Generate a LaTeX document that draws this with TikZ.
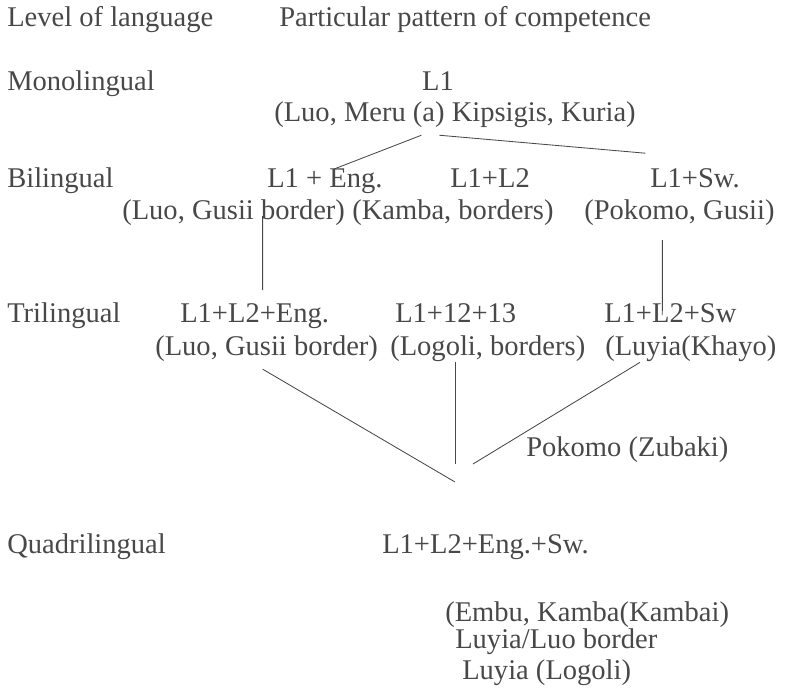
\documentclass[tikz,border=0pt]{standalone}
\usepackage{fontspec}
\setmainfont{Liberation Serif}
\usepackage{tikz}

\definecolor{ink}{RGB}{72,72,72}

\begin{document}
\begin{tikzpicture}[
  txt/.style={inner sep=0pt, text=ink, anchor=base west, font=\fontsize{20.3}{24}\selectfont},
  link/.style={draw=ink, line width=0.6pt}]

\useasboundingbox (0,0) rectangle (19.675,17.375);

\node[txt] (hlvl) at (0.175,16.7) {Level of language};
\node[txt] (hpat) at (6.975,16.7) {Particular pattern of competence};

\node[txt] (mono) at (0.175,15.1) {Monolingual};
\node[txt, anchor=base] (monol1) at (10.95,15.1) {L1};
\node[txt] (monoex) at (6.85,14.325) {(Luo, Meru (a) Kipsigis, Kuria)};

\node[txt] (bi) at (0.175,12.675) {Bilingual};
\node[txt] (bieng) at (6.675,12.675) {L1 + Eng.};
\node[txt] (bil2) at (11.25,12.675) {L1+L2};
\node[txt] (bisw) at (16.25,12.675) {L1+Sw.};
\node[txt] (biluo) at (3.05,11.875) {(Luo, Gusii border)};
\node[txt] (bikam) at (8.8,11.875) {(Kamba, borders)};
\node[txt] (bipok) at (14.6,11.875) {(Pokomo, Gusii)};

\node[txt] (tri) at (0.175,9.3) {Trilingual};
\node[txt] (trieng) at (4.5,9.3) {L1+L2+Eng.};
\node[txt] (tri13) at (9.875,9.3) {L1+12+13};
\node[txt] (trisw) at (15.1,9.3) {L1+L2+Sw};
\node[txt] (triluo) at (3.875,8.475) {(Luo, Gusii border)};
\node[txt] (trilog) at (9.75,8.475) {(Logoli, borders)};
\node[txt] (trikha) at (15.125,8.475) {(Luyia(Khayo)};

\node[txt] (pokz) at (13.15,5.95) {Pokomo (Zubaki)};
\coordinate (meet) at (11.375,5.325);

\node[txt] (quad) at (0.175,3.525) {Quadrilingual};
\node[txt] (quadl) at (9.55,3.525) {L1+L2+Eng.+Sw.};
\node[txt] (qex1) at (11.125,1.825) {(Embu, Kamba(Kambai)};
\node[txt] (qex2) at (11.375,1.15) {Luyia/Luo border};
\node[txt] (qex3) at (11.55,0.375) {Luyia (Logoli)};

% mono -> bi
\draw[link] ([shift={(-0.84,-0.17)}]monoex.south) -- ([xshift=0.24cm]bieng.north);
\draw[link] ([shift={(-0.39,-0.17)}]monoex.south) -- ([shift={(-1.24,0.39)}]bisw.north);

% bi -> tri
\draw[link] ([shift={(0.725,0.255)}]biluo.south) -- ([shift={(0.2,0.34)}]trieng.north);
\draw[link] ([shift={(-0.425,-0.345)}]bipok.south) -- ([shift={(-0.2,-0.28)}]trisw.north);

% tri -> quad
\draw[link] ([shift={(-0.1,-0.17)}]triluo.south) -- (meet);
\draw[link] (trilog.south -| meet) -- ([yshift=0.45cm]meet);
\draw[link] ([xshift=-1.275cm]trikha.south) -- ([shift={(0.45,0.45)}]meet);

\end{tikzpicture}
\end{document}
